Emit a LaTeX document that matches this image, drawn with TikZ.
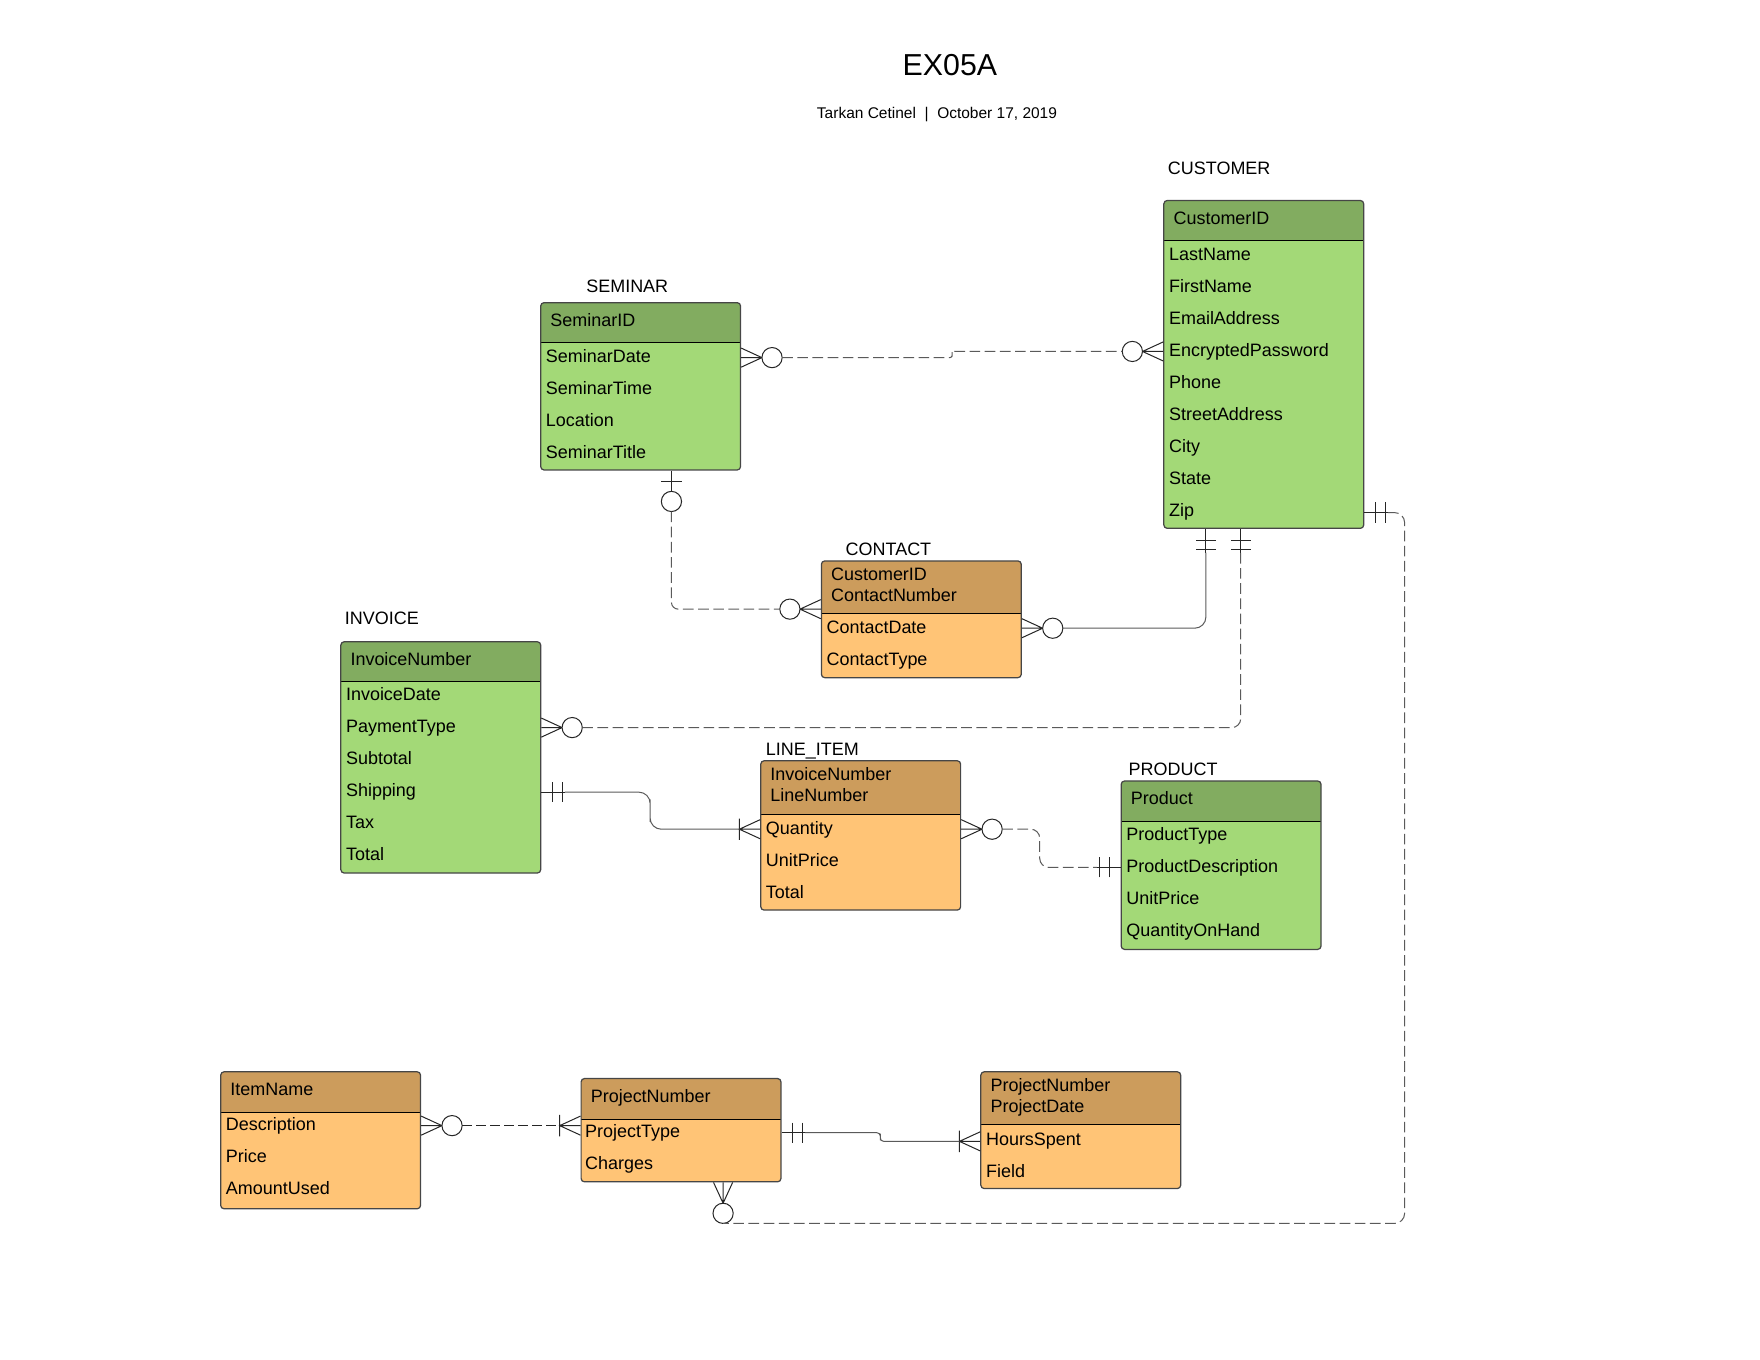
\documentclass[tikz,border=0pt]{standalone}
\usepackage{fontspec}
\setmainfont{Liberation Sans}
\usepackage{tikz}

\definecolor{greenhead}{RGB}{130,172,96}
\definecolor{greenbody}{RGB}{163,217,119}
\definecolor{orangehead}{RGB}{204,156,92}
\definecolor{orangebody}{RGB}{255,196,118}
\definecolor{boxgray}{RGB}{70,70,70}
\definecolor{linkgray}{RGB}{90,90,90}

\tikzset{
  ent/.style n args={3}{draw=boxgray, line width=1.1pt, fill=#2, rounded corners=3pt,
    inner sep=0pt, anchor=north west, minimum width=178pt,
    path picture={
      \fill[#1, sharp corners] (path picture bounding box.north west) rectangle ([yshift=-#3]path picture bounding box.north east);
      \draw[black, line width=0.8pt, sharp corners] ([yshift=-#3]path picture bounding box.north west) -- ([yshift=-#3]path picture bounding box.north east);
    }},
  fld/.style={anchor=west, inner sep=0pt, font=\fontsize{16}{19}\selectfont, text height=11.5pt, text depth=0pt},
  tname/.style={fld},
  mk/.style={line width=0.9pt, black!85},
  dashline/.style={line width=0.9pt, linkgray, dash pattern=on 9.5pt off 4pt},
  solidline/.style={line width=0.9pt, linkgray},
  pics/zeromany/.style={code={
    \draw[mk] (0,-8.5) -- (18.5,0) -- (0,8.5) (0,0) -- (18.5,0);
    \draw[mk, fill=white] (27.5,0) circle (9);
    \coordinate (-end) at (36.5,0);}},
  pics/zeroone/.style={code={
    \draw[mk] (0,0) -- (18.5,0) (9.5,-9) -- (9.5,9);
    \draw[mk, fill=white] (27.5,0) circle (9);
    \coordinate (-end) at (36.5,0);}},
  pics/oneone/.style={code={
    \draw[mk] (0,0) -- (21,0) (10,-9) -- (10,9) (18.5,-9) -- (18.5,9);
    \coordinate (-end) at (21,0);}},
  pics/onemany/.style={code={
    \draw[mk] (0,-8.5) -- (18.5,0) -- (0,8.5) (0,0) -- (18.5,0) (18.5,-9.5) -- (18.5,9.5);
    \coordinate (-end) at (18.5,0);}},
}

\begin{document}
\begin{tikzpicture}[x=1pt, y=-1pt]

\useasboundingbox (0,0) rectangle (1567.5,1211);

% Title
\node[font=\fontsize{27}{32}\selectfont] (title) at (846,58) {EX05A};
\node[font=\fontsize{13.8}{16}\selectfont] (author) at (834.5,102) {Tarkan Cetinel\ \ |\ \ October 17, 2019};

% CUSTOMER
\node[tname] (cusName) at (1040,150) {CUSTOMER};
\node[ent={greenhead}{greenbody}{36pt}, minimum height=292pt] (cus) at (1036,178) {};
\node[fld] (cusKey) at (1045,194.5) {CustomerID};
\node[fld] (cusLast) at (1041,226.5) {LastName};
\node[fld] (cusFirst) at (1041,255) {FirstName};
\node[fld] (cusEmail) at (1041,283.5) {EmailAddress};
\node[fld] (cusPwd) at (1041,312) {EncryptedPassword};
\node[fld] (cusPhone) at (1041,340.5) {Phone};
\node[fld] (cusStreet) at (1041,369) {StreetAddress};
\node[fld] (cusCity) at (1041,397.5) {City};
\node[fld] (cusState) at (1041,426) {State};
\node[fld] (cusZip) at (1041,454.5) {Zip};

% SEMINAR
\node[tname] (semName) at (522,255) {SEMINAR};
\node[ent={greenhead}{greenbody}{35pt}, minimum height=149pt] (sem) at (481,269) {};
\node[fld] (semKey) at (490,285) {SeminarID};
\node[fld] (semDate) at (486,317) {SeminarDate};
\node[fld] (semTime) at (486,345.5) {SeminarTime};
\node[fld] (semLoc) at (486,374) {Location};
\node[fld] (semTitle) at (486,402.5) {SeminarTitle};

% CONTACT
\node[tname] (conName) at (753,489) {CONTACT};
\node[ent={orangehead}{orangebody}{47pt}, minimum height=104pt] (con) at (731,499) {};
\node[fld] (conKeyA) at (740,511) {CustomerID};
\node[fld] (conKeyB) at (740,530) {ContactNumber};
\node[fld] (conDate) at (736,558.5) {ContactDate};
\node[fld] (conType) at (736,587) {ContactType};

% INVOICE
\node[tname] (invName) at (307,550) {INVOICE};
\node[ent={greenhead}{greenbody}{35pt}, minimum height=206pt] (inv) at (303,571) {};
\node[fld] (invKey) at (312,587) {InvoiceNumber};
\node[fld] (invDate) at (308,618.5) {InvoiceDate};
\node[fld] (invPay) at (308,647) {PaymentType};
\node[fld] (invSub) at (308,675.5) {Subtotal};
\node[fld] (invShip) at (308,704) {Shipping};
\node[fld] (invTax) at (308,732.5) {Tax};
\node[fld] (invTotal) at (308,761) {Total};

% LINE_ITEM
\node[tname] (liName) at (682,667) {LINE\_ITEM};
\node[ent={orangehead}{orangebody}{48pt}, minimum height=133pt] (li) at (677,677) {};
\node[fld] (liKeyA) at (686,689) {InvoiceNumber};
\node[fld] (liKeyB) at (686,708) {LineNumber};
\node[fld] (liQty) at (682,737.5) {Quantity};
\node[fld] (liPrice) at (682,766) {UnitPrice};
\node[fld] (liTotal) at (682,794.5) {Total};

% PRODUCT
\node[tname] (prdName) at (1005,685) {PRODUCT};
\node[ent={greenhead}{greenbody}{36pt}, minimum height=150pt] (prd) at (998,695) {};
\node[fld] (prdKey) at (1007,711) {Product};
\node[fld] (prdType) at (1003,743) {ProductType};
\node[fld] (prdDesc) at (1003,771.5) {ProductDescription};
\node[fld] (prdPrice) at (1003,800) {UnitPrice};
\node[fld] (prdQty) at (1003,828.5) {QuantityOnHand};

% items
\node[ent={orangehead}{orangebody}{36pt}, minimum height=122pt] (itm) at (196,954) {};
\node[fld] (itmKey) at (205,970) {ItemName};
\node[fld] (itmDesc) at (201,1001.5) {Description};
\node[fld] (itmPrice) at (201,1030) {Price};
\node[fld] (itmUsed) at (201,1058.5) {AmountUsed};

% projects
\node[ent={orangehead}{orangebody}{36pt}, minimum height=92pt] (prj) at (517,960) {};
\node[fld] (prjKey) at (526,976) {ProjectNumber};
\node[fld] (prjType) at (521,1007.5) {ProjectType};
\node[fld] (prjCharge) at (521,1036) {Charges};

% project hours
\node[ent={orangehead}{orangebody}{47pt}, minimum height=104pt] (ph) at (873,954) {};
\node[fld] (phKeyA) at (882,966) {ProjectNumber};
\node[fld] (phKeyB) at (882,985) {ProjectDate};
\node[fld] (phHours) at (878,1014) {HoursSpent};
\node[fld] (phField) at (878,1042.5) {Field};

% SEMINAR - CUSTOMER
\pic (semA) at (sem.east |- 0,318.5) {zeromany};
\pic[rotate=180] (cusA) at (cus.west |- 0,313) {zeromany};
\draw[dashline, rounded corners=2pt] (semA-end) -| (848,315.5) |- (cusA-end);

% SEMINAR - CONTACT
\pic[rotate=-90] (semB) at (598,0 |- sem.south) {zeroone};
\pic[rotate=180] (conA) at (con.west |- 0,542.5) {zeromany};
\draw[dashline, rounded corners=6pt] (semB-end) |- (conA-end);

% CONTACT - CUSTOMER
\pic (conB) at (con.east |- 0,559.5) {zeromany};
\pic[rotate=-90] (cusB) at (1074,0 |- cus.south) {oneone};
\draw[solidline, rounded corners=10pt] (conB-end) -| (cusB-end);

% INVOICE - CUSTOMER
\pic (invA) at (inv.east |- 0,648) {zeromany};
\pic[rotate=-90] (cusC) at (1105,0 |- cus.south) {oneone};
\draw[dashline, rounded corners=8pt] (invA-end) -| (cusC-end);

% INVOICE - LINE_ITEM
\pic (invB) at (inv.east |- 0,705.5) {oneone};
\pic[rotate=180] (liA) at (li.west |- 0,738.5) {onemany};
\draw[solidline, rounded corners=10pt] (invB-end) -| (579,722) |- (liA-end);

% LINE_ITEM - PRODUCT
\pic (liB) at (li.east |- liA-end) {zeromany};
\pic[rotate=180] (prdA) at (prd.west |- 0,772.5) {oneone};
\draw[dashline, rounded corners=8pt] (liB-end) -| (926,755) |- (prdA-end);

% CUSTOMER - projects
\pic (cusD) at (cus.east |- 0,456.5) {oneone};
\pic[rotate=-90] (prjC) at (644,0 |- prj.south) {zeromany};
\draw[dashline, rounded corners=9pt] (cusD-end) -| (1251,0 |- prjC-end) -- (prjC-end);

% items - projects
\pic (itmA) at (itm.east |- 0,1002.5) {zeromany};
\pic[rotate=180] (prjA) at (prj.west |- itmA-end) {onemany};
\draw[line width=0.9pt, black!85, dash pattern=on 8.5pt off 4pt] (itmA-end) -- (prjA-end);

% projects - project hours
\pic (prjB) at (prj.east |- 0,1008.8) {oneone};
\pic[rotate=180] (phA) at (ph.west |- 0,1016.5) {onemany};
\draw[solidline, rounded corners=3pt] (prjB-end) -| (784,1012.6) |- (phA-end);

\end{tikzpicture}
\end{document}
